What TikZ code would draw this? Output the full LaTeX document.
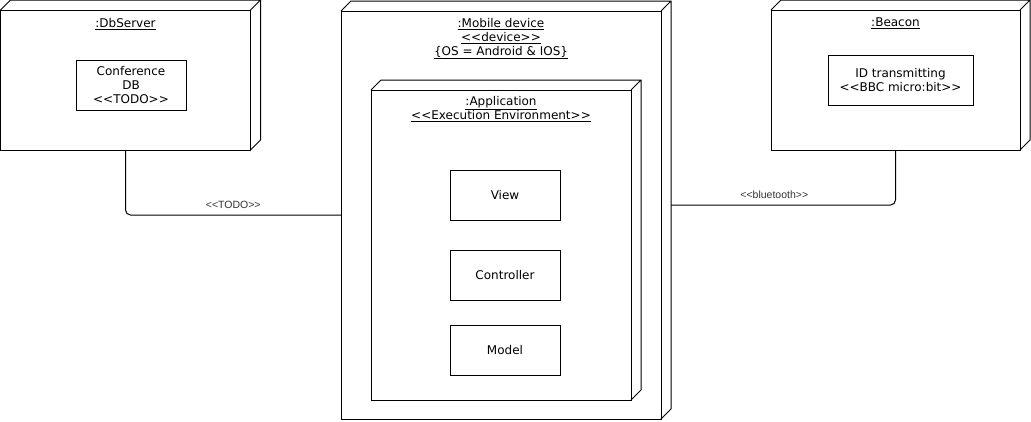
\documentclass[tikz,border=0pt]{standalone}
\usepackage{fontspec}
\newfontfamily\diagfont{DejaVu Sans}
\newfontfamily\labelfont{Liberation Sans}
\usetikzlibrary{positioning}

\newcommand{\stereo}[1]{\textless\textless#1\textgreater\textgreater}

\tikzset{
    node3d/.style 2 args={draw, line width=1pt, outer sep=0pt, inner sep=0pt,
        minimum width=#1, minimum height=#2},
    artifact/.style={draw, line width=1pt, outer sep=0pt, inner sep=0pt,
        minimum width=110pt, minimum height=50pt, align=center,
        font=\diagfont\fontsize{12}{14}\selectfont},
    title/.style={inner sep=0pt, align=center, font=\diagfont\fontsize{12}{14}\selectfont},
    link/.style={draw, line width=1pt, rounded corners=5pt},
    linklabel/.style={inner sep=0pt, text=black!80, font=\labelfont\fontsize{10.5}{12}\selectfont}
}

\begin{document}
\begin{tikzpicture}[x=1pt, y=-1pt]
        \useasboundingbox (0,0) rectangle (1031,421);

        \node[node3d={250pt}{140pt}] (db) at (125.5,80) {};
        \node[node3d={320pt}{408pt}] (mobile) at (501,215) {};
        \node[node3d={260pt}{310pt}] (app) at (501,245) {};
        \node[node3d={249pt}{140pt}] (beacon) at (895.5,80) {};
        \foreach \n in {db,mobile,app,beacon}
            \draw[line width=1pt] (\n.north west) -- ++(10,-10)
                -- ([shift={(10,-10)}]\n.north east)
                -- ([shift={(10,-10)}]\n.south east) -- (\n.south east)
                (\n.north east) -- ++(10,-10);

        \node[title, below=8pt of db.north] {\underline{:DbServer}};
        \node[title, below=7pt of mobile.north] {\underline{:Mobile device}\\
            \underline{\stereo{device}}\\ \underline{\{OS = Android \& IOS\}}};
        \node[title, below=6pt of app.north] {\underline{:Application}\\
            \underline{\stereo{Execution Environment}}};
        \node[title, below=8pt of beacon.north] {\underline{:Beacon}};

        \node[artifact] (confdb) at (131,85) {Conference\\DB\\\stereo{TODO}};
        \node[artifact, minimum width=145pt] (idtx) at (900.5,80.5)
            {ID transmitting\\\stereo{BBC micro:bit}};

        \node[artifact] (view) at (505,195) {View};
        \node[artifact, below=30pt of view] (controller) {Controller};
        \node[artifact, below=25pt of controller] (model) {Model};

        \draw[link] (db.south) |-
            node[pos=0.75, above=6pt, linklabel]{\stereo{TODO}} (mobile.west);
        \draw[link] ([shift={(10,-10)}]mobile.east) -|
            node[pos=0.23, above=6pt, linklabel]{\stereo{bluetooth}} (beacon.south);
    \end{tikzpicture}
\end{document}
